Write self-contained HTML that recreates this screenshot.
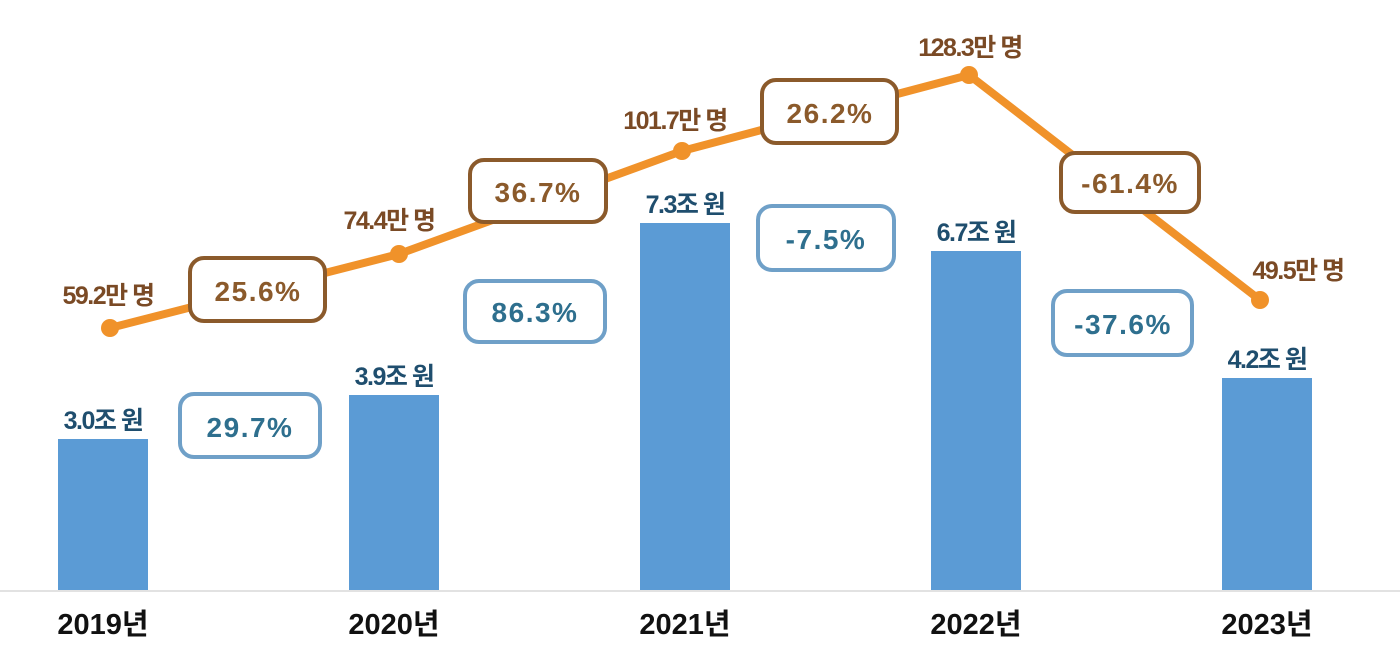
<!DOCTYPE html>
<html><head><meta charset="utf-8"><style>
html,body{margin:0;padding:0;background:#fff;}
svg{display:block;font-family:"Liberation Sans","Noto Sans CJK KR",sans-serif;font-weight:bold;}
</style></head><body>
<svg width="1400" height="668" viewBox="0 0 1400 668">
<line x1="0" y1="591" x2="1400" y2="591" stroke="#e2e2e2" stroke-width="2"/>
<g fill="#5b9bd5">
<rect x="58" y="439" width="90" height="151"/>
<rect x="349" y="395" width="90" height="195"/>
<rect x="640" y="223" width="90" height="367"/>
<rect x="931" y="251" width="90" height="339"/>
<rect x="1222" y="378" width="90" height="212"/>
</g>
<polyline points="110,328 399,254 682,151 969,75 1260,300" fill="none" stroke="#f0922a" stroke-width="8" stroke-linejoin="round"/>
<g fill="#f0922a">
<circle cx="110" cy="328" r="9"/><circle cx="399" cy="254" r="9"/><circle cx="682" cy="151" r="9"/><circle cx="969" cy="75" r="9"/><circle cx="1260" cy="300" r="9"/>
</g>
<g fill="#fff" stroke="#8b5a2b" stroke-width="4">
<rect x="190" y="258" width="135" height="63" rx="14"/>
<rect x="470" y="160" width="136" height="62" rx="14"/>
<rect x="762" y="80" width="135" height="63" rx="14"/>
<rect x="1061" y="153" width="138" height="59" rx="14"/>
</g>
<g fill="#fff" stroke="#6fa0c8" stroke-width="4">
<rect x="180" y="394" width="140" height="63" rx="14"/>
<rect x="465" y="281" width="140" height="61" rx="14"/>
<rect x="758" y="206" width="136" height="64" rx="14"/>
<rect x="1053" y="291" width="139" height="64" rx="14"/>
</g>
<g font-size="28" fill="#8b5a2b" text-anchor="middle" letter-spacing="1.5">
<text x="258" y="301">25.6%</text>
<text x="538" y="202">36.7%</text>
<text x="830" y="123">26.2%</text>
<text x="1130" y="193">-61.4%</text>
</g>
<g font-size="28" fill="#2e6f8e" text-anchor="middle" letter-spacing="1.5">
<text x="250" y="437">29.7%</text>
<text x="535" y="322">86.3%</text>
<text x="826" y="249">-7.5%</text>
<text x="1123" y="334">-37.6%</text>
</g>
<g font-size="25" fill="#7a4a25" text-anchor="middle" letter-spacing="-1.5">
<text x="108" y="304">59.2만 명</text>
<text x="389" y="229">74.4만 명</text>
<text x="675" y="129">101.7만 명</text>
<text x="970" y="56">128.3만 명</text>
<text x="1298" y="279">49.5만 명</text>
</g>
<g font-size="25" fill="#1f4e6e" text-anchor="middle" letter-spacing="-1.5">
<text x="103" y="429">3.0조 원</text>
<text x="394" y="385">3.9조 원</text>
<text x="685" y="213">7.3조 원</text>
<text x="976" y="241">6.7조 원</text>
<text x="1267" y="368">4.2조 원</text>
</g>
<g font-size="29" fill="#111" text-anchor="middle">
<text x="103" y="634">2019년</text>
<text x="394" y="634">2020년</text>
<text x="685" y="634">2021년</text>
<text x="976" y="634">2022년</text>
<text x="1267" y="634">2023년</text>
</g>
</svg>
</body></html>
